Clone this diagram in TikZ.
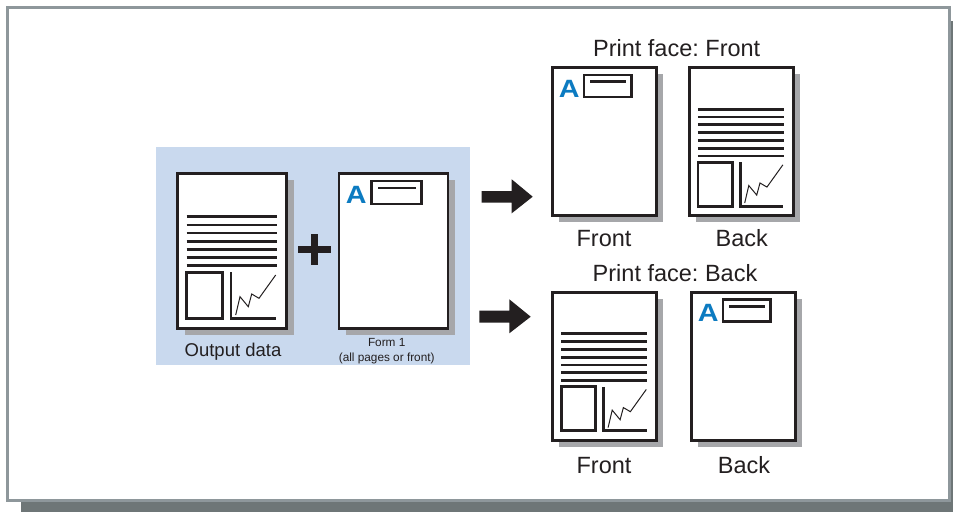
\documentclass[tikz,border=0pt]{standalone}
\usepackage{fontspec}
\setmainfont{Liberation Sans}
\frenchspacing
\definecolor{bgblue}{HTML}{C9D9EE}
\definecolor{shadowgray}{HTML}{A6A7AA}
\definecolor{ink}{HTML}{231F20}
\definecolor{ablue}{HTML}{0C7BC1}
\definecolor{framegray}{HTML}{8E979B}
\definecolor{frameshadow}{HTML}{6E7677}
\tikzset{
  pageline/.style={draw=ink, line width=2.8pt, fill=white},
  textline/.style={draw=ink, line width=2.7pt},
  boxline/.style={draw=ink, line width=2.8pt},
  zigline/.style={draw=ink, line width=1pt, line join=miter},
  innerline/.style={draw=ink, line width=2.6pt},
  lbl/.style={inner sep=0pt, anchor=base, text=ink},
  datapage/.pic={
    \fill[shadowgray] (7,7) rectangle (116,162);
    \draw[pageline] (0,0) rectangle (109,155);
    \foreach \i in {0,...,6} {
      \draw[textline] (9,43.4+8.17*\i) -- (99,43.4+8.17*\i);
    }
    \draw[boxline] (9,99) rectangle (45,145);
    \draw[boxline] (53.3,99) -- (53.3,145) -- (98.3,145);
    \draw[zigline] (58,141.7) -- (62.3,123.4) -- (70.6,133.4) -- (74,120.7) -- (81.3,125) -- (98,101.7);
  },
  formpage/.pic={
    \fill[shadowgray] (7,7) rectangle (116,162);
    \draw[pageline] (0,0) rectangle (109,155);
    \node[inner sep=0pt, text=ablue, font=\fontsize{25}{25}\selectfont\bfseries] (-a) at (17.3,22) {\scalebox{1.15}[1]{A}};
    \draw[boxline] (32.7,7.7) rectangle (82.7,30.7);
    \draw[innerline] (39.3,14.7) -- (76.7,14.7);
  }
}
\begin{document}
\begin{tikzpicture}[x=1pt, y=-1pt]
\useasboundingbox (0,0) rectangle (953,512);
% outer frame with shadow
\fill[frameshadow] (21,21) rectangle (953,512);
\draw[draw=framegray, line width=3pt, fill=white] (7.5,7.5) rectangle (949.5,500.5);
% blue background
\fill[bgblue] (156,147) rectangle (470,365);
% left pages
\pic (outdata) at (177.7,173.3) {datapage};
\pic (form) at (339,173.3) {formpage};
% plus sign
\fill[ink] (298.3,246) rectangle (331,253.3);
\fill[ink] (311,234.3) rectangle (318.3,265);
% labels left
\node[lbl, font=\fontsize{18.5}{20}\selectfont] (outlbl) at (233,356) {Output data};
\node[lbl, font=\fontsize{11.8}{13}\selectfont] (formlbl) at (386.7,346.7) {Form 1};
\node[lbl, font=\fontsize{11.8}{13}\selectfont] (formlbl2) at (386.7,361) {(all pages or front)};
% arrows
\fill[ink] (481.7,191) -- (511.7,191) -- (511.7,179.3) -- (532.7,196.7) -- (511.7,213.3) -- (511.7,202.7) -- (481.7,202.7) -- cycle;
\fill[ink] (479.3,310.7) -- (509.3,310.7) -- (509.3,299.3) -- (530.7,316.7) -- (509.3,333.3) -- (509.3,322.7) -- (479.3,322.7) -- cycle;
% right top
\node[lbl, font=\fontsize{23.5}{26}\selectfont] (ttitle) at (676.7,56) {Print face: Front};
\pic[scale=0.955] (tf) at (552.7,67.7) {formpage};
\pic[scale=0.955] (tb) at (689.3,67.7) {datapage};
\node[lbl, font=\fontsize{23.5}{26}\selectfont] (tflbl) at (604,246) {Front};
\node[lbl, font=\fontsize{23.5}{26}\selectfont] (tblbl) at (741.7,246) {Back};
% right bottom
\node[lbl, font=\fontsize{23.5}{26}\selectfont] (btitle) at (675,281.7) {Print face: Back};
\pic[scale=0.955] (bf) at (552.7,292.3) {datapage};
\pic[scale=0.955] (bb) at (691.7,292.3) {formpage};
\node[lbl, font=\fontsize{23.5}{26}\selectfont] (bflbl) at (604,473.3) {Front};
\node[lbl, font=\fontsize{23.5}{26}\selectfont] (bblbl) at (744,473.3) {Back};
\end{tikzpicture}
\end{document}
